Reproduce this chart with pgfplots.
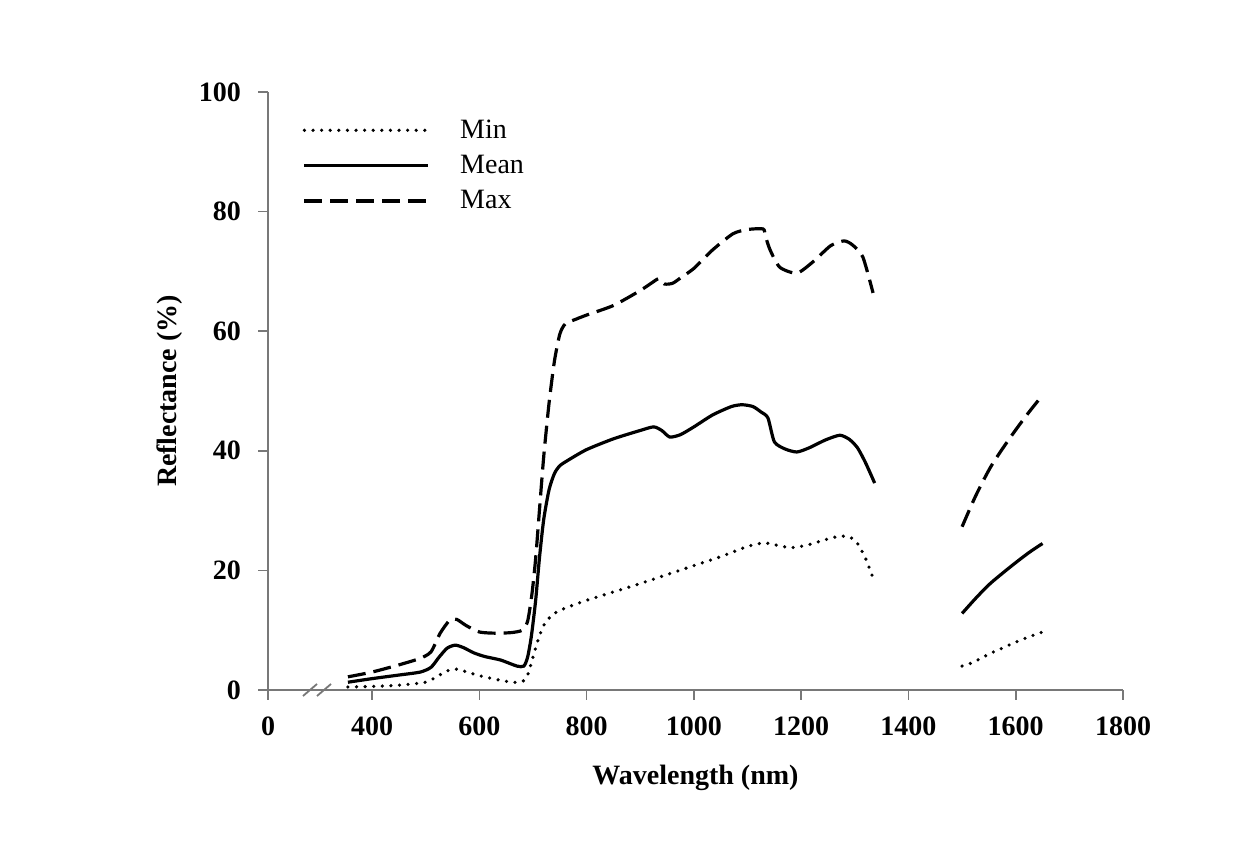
\documentclass[border=0pt]{standalone}
\usepackage{pgfplots}
\pgfplotsset{compat=1.18}
\usepackage{pgfplotstable}
\usepackage{fontspec}
\setmainfont{Liberation Serif}

\pgfplotstableread{
x y
355 0.5
400 0.6
450 0.8
500 1.3
520 2.2
540 3.2
555 3.5
570 3.2
600 2.4
630 1.8
660 1.3
680 1.4
690 2.5
700 5.5
710 8.5
720 10.8
735 12.5
750 13.3
775 14.2
800 15.0
850 16.4
900 17.8
950 19.3
1000 20.8
1050 22.3
1100 24.0
1130 24.6
1150 24.3
1180 23.8
1210 24.2
1240 25.0
1270 25.7
1290 25.6
1305 24.5
1320 22.0
1337 18.0
}\minA
\pgfplotstableread{
x y
1500 4.0
1520 4.6
1550 6.0
1575 7.0
1600 8.0
1625 8.9
1650 9.7
}\minB
\pgfplotstableread{
x y
355 1.3
400 1.9
450 2.5
490 3.0
510 3.8
525 5.5
540 7.0
555 7.5
570 7.1
590 6.2
610 5.6
640 5.0
670 4.0
683 4.0
690 5.5
697 9
705 15
712 22
720 28.5
730 33.5
740 36.2
750 37.5
765 38.4
800 40.2
850 42.0
900 43.4
925 44.0
940 43.4
955 42.3
975 42.7
1000 44.0
1035 46.0
1070 47.4
1090 47.7
1110 47.4
1125 46.5
1138 45.5
1150 41.5
1170 40.3
1192 39.8
1215 40.5
1245 41.8
1272 42.6
1290 41.9
1305 40.5
1320 38.0
1337 34.6
}\meanA
\pgfplotstableread{
x y
1500 12.8
1525 15.3
1550 17.6
1575 19.5
1600 21.3
1625 23.0
1650 24.5
}\meanB
\pgfplotstableread{
x y
355 2.2
400 3.0
450 4.2
490 5.3
510 6.4
527 9.5
545 11.7
558 11.8
575 10.8
600 9.7
630 9.5
660 9.6
680 10.0
690 11.5
698 16
705 22
712 30
720 39
730 48
740 55
750 59.5
760 61.2
780 62.0
800 62.7
850 64.3
900 66.8
925 68.3
935 68.8
945 67.9
960 68.0
975 68.9
1000 70.5
1035 73.6
1073 76.3
1100 77.0
1129 77.1
1133 76.0
1142 73.6
1160 70.7
1192 69.7
1222 71.6
1255 74.3
1280 75.1
1296 74.4
1315 72.4
1334 66.4
}\maxA
\pgfplotstableread{
x y
1500 27.3
1525 32.4
1552 37.1
1575 40.3
1600 43.5
1625 46.5
1650 49.3
}\maxB

\definecolor{axgray}{RGB}{120,120,120}

\begin{document}
\begin{tikzpicture}
\useasboundingbox (-134pt,-82pt) rectangle (491.5pt,345pt);
\begin{axis}[
  at={(0pt,0pt)}, anchor=south west,
  scale only axis,
  width=427.5pt, height=299pt,
  xmin=206, xmax=1800, ymin=0, ymax=100,
  axis x line=bottom, axis y line=left,
  axis line style={-, axgray, line width=1.2pt},
  tick style={axgray, line width=0.8pt},
  tick align=outside,
  major tick length=5pt,
  xtick={206,400,600,800,1000,1200,1400,1600,1800},
  xticklabels={0,400,600,800,1000,1200,1400,1600,1800},
  ytick={0,20,40,60,80,100},
  /pgf/number format/assume math mode=true,
  every tick label/.append style={font=\fontsize{14}{16}\selectfont\bfseries},
  xticklabel style={yshift=-5pt},
  yticklabel style={xshift=-5pt},
  xlabel={Wavelength (nm)},
  ylabel={Reflectance (\%)},
  every axis x label/.style={at={([yshift=-44pt]axis description cs:0.5,0)}, anchor=center, font=\fontsize{14}{16}\selectfont\bfseries},
  every axis y label/.style={at={([xshift=-49pt]axis description cs:0,0.5)}, rotate=90, anchor=center, font=\fontsize{14}{16}\selectfont\bfseries},
  legend style={draw=none, fill=none, at={(rel axis cs:0.033,0.968)}, anchor=north west,
    font=\fontsize{14}{16}\selectfont, row sep=3pt,
    /tikz/every odd column/.append style={column sep=13pt}},
  legend cell align=left,
  legend image code/.code={\draw[#1] (0pt,0pt) -- (62pt,0pt);},
]
\addplot[black, line width=1.8pt, line cap=round, dash pattern=on 0pt off 4.3pt, smooth, tension=0.4] table {\minA};
\addlegendentry{Min}
\addplot[black, line width=1.6pt, smooth, tension=0.4] table {\meanA};
\addlegendentry{Mean}
\addplot[black, line width=1.6pt, dash pattern=on 9pt off 4pt, smooth, tension=0.4] table {\maxA};
\addlegendentry{Max}
\addplot[black, line width=1.8pt, line cap=round, dash pattern=on 0pt off 4.3pt, smooth, forget plot] table {\minB};
\addplot[black, line width=1.6pt, smooth, forget plot] table {\meanB};
\addplot[black, line width=1.6pt, dash pattern=on 9pt off 4pt, smooth, forget plot] table {\maxB};
\end{axis}
\draw[axgray, line width=0.9pt] (17.5pt,-3pt) -- (24.5pt,3pt);
\draw[axgray, line width=0.9pt] (24.5pt,-3pt) -- (31.5pt,3pt);
\end{tikzpicture}
\end{document}
